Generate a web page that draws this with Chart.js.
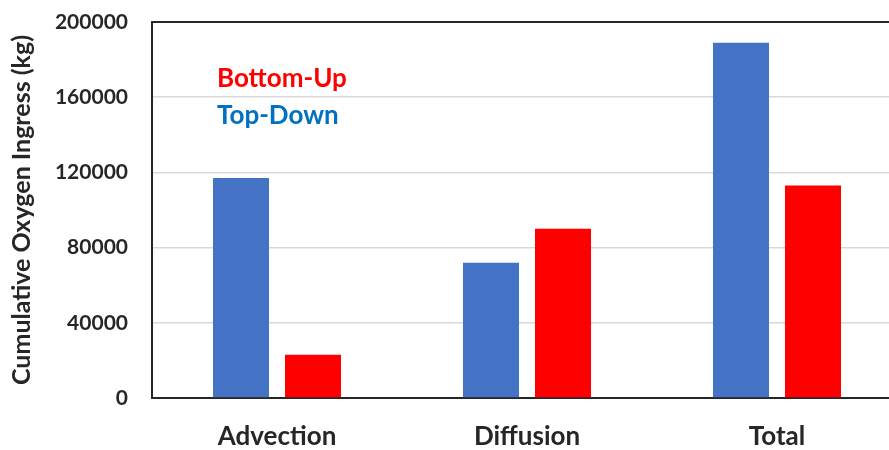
<!DOCTYPE html>
<html>
<head>
<meta charset="utf-8">
<script src="https://cdn.jsdelivr.net/npm/chart.js@4"></script>
<style>
  html, body { margin: 0; padding: 0; background: #fff; }
  #wrap { width: 889px; height: 450px; overflow: hidden; position: relative; }
  canvas { display: block; }
</style>
</head>
<body>
<div id="wrap"><canvas id="c" width="905" height="450"></canvas></div>
<script>
// Oxygen ingress by transport mechanism
const categories = ['Advection', 'Diffusion', 'Total'];
const topDown = [117000, 72000, 189000];
const bottomUp = [23000, 90000, 113000];
const yTicks = [0, 40000, 80000, 120000, 160000, 200000];

const FONT = 'Lato, "Open Sans", sans-serif';
const TEXT = '#262626';
const AXIS = '#262626';

// In-plot series labels
const seriesLabels = {
  id: 'seriesLabels',
  afterDraw(chart) {
    const ctx = chart.ctx;
    const area = chart.chartArea;
    ctx.save();
    ctx.font = 'bold 26px ' + FONT;
    ctx.textAlign = 'left';
    ctx.textBaseline = 'alphabetic';
    ctx.fillStyle = '#FF0000';
    ctx.fillText('Bottom-Up', area.left + 65, 87);
    ctx.fillStyle = '#0070C0';
    ctx.fillText('Top-Down', area.left + 65, 124);
    ctx.restore();
  }
};

new Chart(document.getElementById('c'), {
  type: 'bar',
  data: {
    labels: categories,
    datasets: [
      { label: 'Top-Down', data: topDown, backgroundColor: '#4472C4',
        categoryPercentage: 0.576, barPercentage: 0.778 },
      { label: 'Bottom-Up', data: bottomUp, backgroundColor: '#FF0000',
        categoryPercentage: 0.576, barPercentage: 0.778 }
    ]
  },
  options: {
    responsive: false,
    animation: false,
    layout: { padding: { top: 22, left: 0, right: 3, bottom: 0 } },
    plugins: { legend: { display: false }, tooltip: { enabled: false } },
    scales: {
      x: {
        grid: { display: false, drawTicks: false },
        border: { display: true, color: AXIS, width: 2 },
        ticks: { color: TEXT, font: { family: FONT, size: 26, weight: 'bold' }, padding: 23 },
        afterFit(scale) { scale.height = 52; scale.paddingLeft = 0; scale.paddingRight = 0; }
      },
      y: {
        min: 0,
        max: 200000,
        afterBuildTicks(scale) { scale.ticks = yTicks.map(v => ({ value: v })); },
        grid: {
          drawTicks: false,
          color: ctx => (ctx.tick && ctx.tick.value === 200000) ? AXIS : '#D9D9D9',
          lineWidth: ctx => (ctx.tick && ctx.tick.value === 200000) ? 2 : 1.5
        },
        border: { display: true, color: AXIS, width: 2 },
        ticks: {
          color: TEXT,
          font: { family: FONT, size: 21, weight: 'bold' },
          padding: 24,
          callback: v => String(v)
        },
        title: {
          display: true,
          text: 'Cumulative Oxygen Ingress (kg)',
          color: TEXT,
          font: { family: FONT, size: 25, weight: 'bold' },
          padding: { top: 7, bottom: 0 }
        },
        afterFit(scale) { scale.width = 152; scale.paddingTop = 0; scale.paddingBottom = 0; }
      }
    }
  },
  plugins: [seriesLabels]
});
</script>
</body>
</html>
